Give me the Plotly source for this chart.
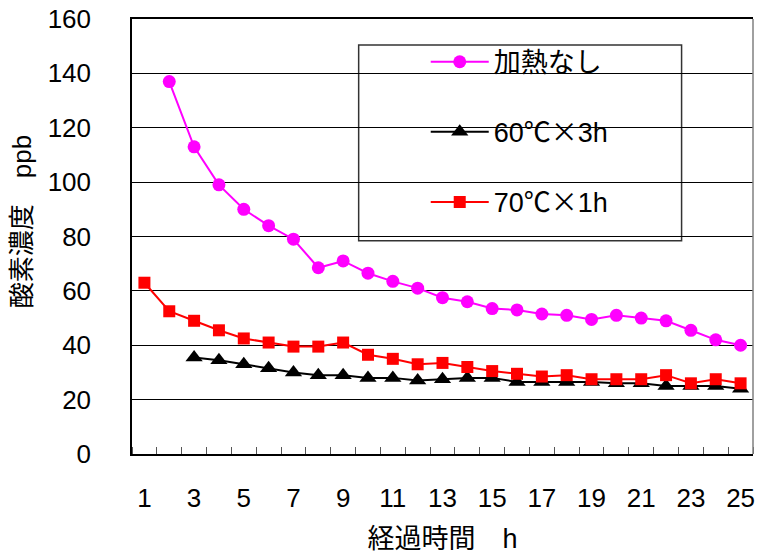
import plotly.graph_objects as go

# Elapsed time (h) for each series
hours_none = list(range(2, 26))
hours_60 = list(range(3, 26))
hours_70 = list(range(1, 26))

# Dissolved oxygen concentration (ppb)
oxygen_none = [137, 113, 99, 90, 84, 79, 68.5, 71, 66.5, 63.5, 61, 57.5, 56,
               53.5, 53, 51.5, 51, 49.5, 51, 50, 49, 45.5, 42, 40]
oxygen_60 = [35.5, 34.5, 33, 31.5, 30, 29, 29, 28, 28, 27, 27.5, 28, 28,
             26.5, 26.5, 26.5, 26.5, 26, 26, 25, 25, 25, 24]
oxygen_70 = [63, 52.5, 49, 45.5, 42.5, 41, 39.5, 39.5, 41, 36.5, 35, 33, 33.5,
             32, 30.5, 29.5, 28.5, 29, 27.5, 27.5, 27.5, 29, 26, 27.5, 26]

x_tick_vals = list(range(1, 26, 2))
y_tick_vals = [0, 20, 40, 60, 80, 100, 120, 140, 160]

FONT = "Liberation Sans, Arial, Noto Sans CJK JP, sans-serif"
CJK = "Noto Sans CJK JP"
TIMES = f'<span style="font-family:{CJK}">×</span>'

fig = go.Figure()
fig.add_trace(go.Scatter(
    x=hours_none, y=oxygen_none, name="加熱なし", legendgroup="a",
    mode="lines+markers", line=dict(color="#FF00FF", width=2),
    marker=dict(symbol="circle", size=13, color="#FF00FF")))
fig.add_trace(go.Scatter(
    x=hours_60, y=oxygen_60, name=f"60℃{TIMES}3h", legendgroup="b",
    mode="lines+markers", line=dict(color="#000000", width=2),
    marker=dict(symbol="triangle-up", size=15, color="#000000")))
fig.add_trace(go.Scatter(
    x=hours_70, y=oxygen_70, name=f"70℃{TIMES}1h", legendgroup="c",
    mode="lines+markers", line=dict(color="#FF0000", width=2),
    marker=dict(symbol="square", size=12, color="#FF0000")))

# legend frame
fig.add_shape(type="rect", xref="paper", yref="paper",
              x0=0.365, x1=0.885, y0=0.49, y1=0.94,
              line=dict(color="#333333", width=1.5), fillcolor="white",
              layer="below")
# right edge of the plot frame
fig.add_shape(type="line", xref="paper", yref="paper",
              x0=1, x1=1, y0=0, y1=1, line=dict(color="#808080", width=1.5))

fig.add_annotation(text="酸素濃度　ppb", xref="paper", yref="paper",
                   x=-0.177, y=0.533, xanchor="center", yanchor="middle",
                   textangle=-90, showarrow=False,
                   font=dict(size=26, color="black", family=FONT))

fig.update_layout(
    width=759, height=554,
    margin=dict(l=132, r=4, t=18, b=99),
    paper_bgcolor="white", plot_bgcolor="white",
    font=dict(family=FONT, size=26, color="black"),
    showlegend=True,
    legend=dict(x=0.473, y=0.957, xanchor="left", yanchor="top",
                bgcolor="rgba(0,0,0,0)", borderwidth=0,
                font=dict(size=27, color="black", family=FONT),
                tracegroupgap=32, itemwidth=58),
    xaxis=dict(range=[0.5, 25.5], tickvals=x_tick_vals,
               ticktext=[str(v) for v in x_tick_vals],
               ticks="", showgrid=False, zeroline=False,
               showline=True, linecolor="black", linewidth=1.5, mirror=True,
               ticklabelstandoff=20,
               minor=dict(ticks="inside", tick0=0.5, dtick=1, ticklen=7,
                          tickcolor="#555555", showgrid=False),
               title=dict(text="経過時間　h", font=dict(size=27), standoff=18)),
    yaxis=dict(range=[0, 160], tickvals=y_tick_vals,
               ticks="inside", ticklen=3, tickcolor="black",
               showgrid=True, gridcolor="black", gridwidth=1,
               zeroline=False, showline=True, linecolor="black",
               linewidth=1.5, ticklabelstandoff=34),
)

fig.write_html("out.html")
